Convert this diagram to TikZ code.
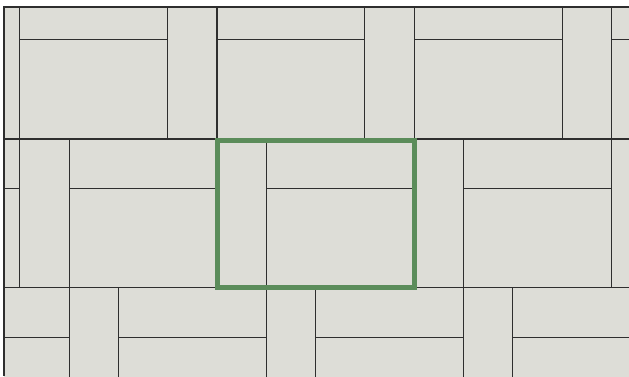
\documentclass[tikz,border=0pt]{standalone}
\usepackage{tikz}
\definecolor{tilefill}{HTML}{DDDDD7}
\definecolor{joint}{HTML}{2E2E2E}
\definecolor{cellgreen}{HTML}{5B8C5A}

\begin{document}
\begin{tikzpicture}[x=1pt,y=-1pt,
  tilebox/.style={fill=tilefill,draw=joint,line width=1.1pt},
  unitcell/.style={draw=cellgreen,line width=5pt}]
\useasboundingbox (0,0) rectangle (629,376);
% basket-weave tiles, each row shifted by one strip width
\begin{scope}
\clip (4,7) rectangle (629,376);
\foreach \j in {-1,0,1}{
  \foreach \i in {-2,...,2}{
    \pgfmathsetmacro{\tx}{217+(4*\i+\j)*49.3}
    \pgfmathsetmacro{\ty}{139+3*\j*49.6}
    \draw[tilebox] (\tx,\ty) rectangle ++(49.3,148.8);
    \draw[tilebox] (\tx+49.3,\ty) rectangle ++(147.9,49.6);
    \draw[tilebox] (\tx+49.3,\ty+49.6) rectangle ++(147.9,99.2);
  }
}
\end{scope}
\draw[joint,line width=1.1pt] (4,376) -- (4,7) -- (629,7);
% repeating unit
\draw[unitcell] (217.5,140) rectangle (414,287.5);
\end{tikzpicture}
\end{document}
